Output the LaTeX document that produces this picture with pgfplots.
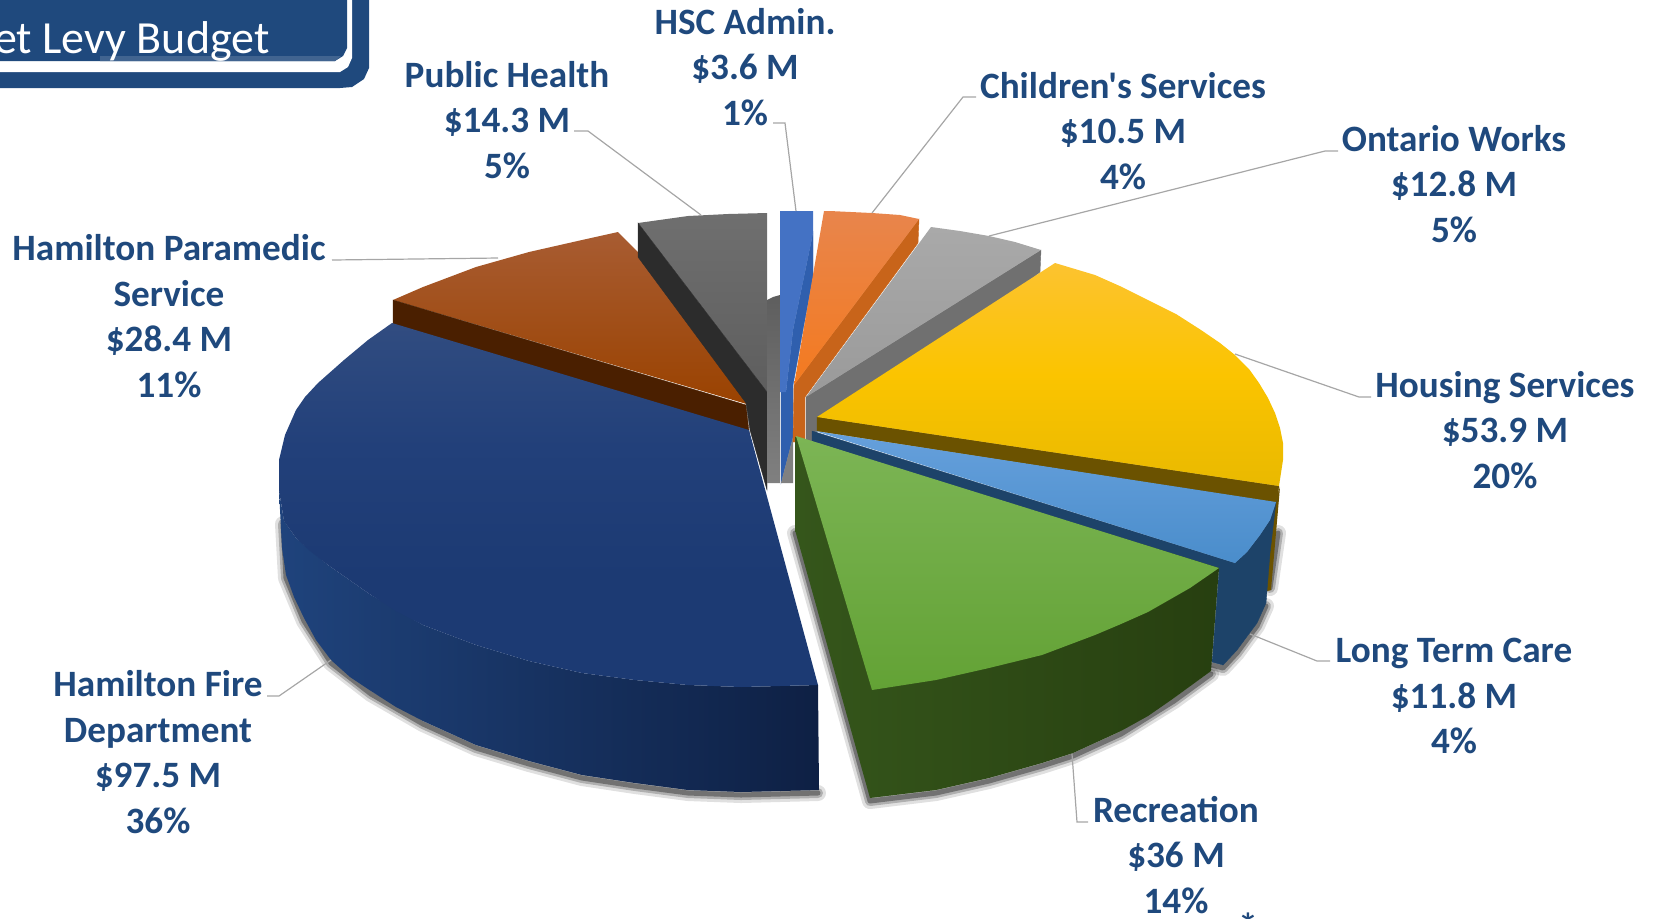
\documentclass[border=0pt]{standalone}
\usepackage{pgfplots}
\pgfplotsset{compat=1.18}
\usepackage{fontspec}
\newfontfamily\cf{Carlito}
\definecolor{lab}{HTML}{1F497D}
\definecolor{lead}{HTML}{A6A6A6}
\definecolor{brt}{HTML}{A85C32}
\definecolor{brb}{HTML}{9A4200}
\definecolor{brw}{HTML}{4A1F00}
\definecolor{PHt}{HTML}{6F6F6F}
\definecolor{PHb}{HTML}{5E5E5E}
\definecolor{PHw}{HTML}{2C2C2C}
\definecolor{band}{HTML}{808080}
\definecolor{hsct}{HTML}{4472C4}
\definecolor{hscd}{HTML}{2F5FAE}
\definecolor{orw}{HTML}{C8641A}
\definecolor{ort}{HTML}{E8854C}
\definecolor{orb}{HTML}{F47A1F}
\definecolor{onw}{HTML}{707070}
\definecolor{ont}{HTML}{A9A9A9}
\definecolor{onb}{HTML}{9A9A9A}
\definecolor{yew}{HTML}{6B5200}
\definecolor{yet}{HTML}{FCC330}
\definecolor{yem}{HTML}{FBC400}
\definecolor{yeb}{HTML}{E9B900}
\definecolor{ltw}{HTML}{1D4369}
\definecolor{ltt}{HTML}{66A0DC}
\definecolor{ltb}{HTML}{4A8DCB}
\definecolor{fiwl}{HTML}{1F437C}
\definecolor{fiwr}{HTML}{0E2044}
\definecolor{fit}{HTML}{4A5F8F}
\definecolor{fia}{HTML}{3E5488}
\definecolor{fim}{HTML}{2E4A7F}
\definecolor{fic}{HTML}{22407A}
\definecolor{fib}{HTML}{1C3A73}
\definecolor{grwl}{HTML}{35561B}
\definecolor{grwr}{HTML}{273F10}
\definecolor{grt}{HTML}{7CB555}
\definecolor{grb}{HTML}{63A235}
\pgfdeclareverticalshading{fireS}{100bp}{color(0bp)=(fib);color(40bp)=(fib);color(58bp)=(fic);color(72bp)=(fim);color(85bp)=(fia);color(100bp)=(fit)}
\newcommand{\poly}[2]{\addplot[draw=none,#1] coordinates {#2} -- cycle;}
\newcommand{\shad}[1]{%
  \addplot[black,opacity=.12,line width=8pt,line join=round,line cap=round,yshift=-1.5pt] coordinates {#1};
  \addplot[black,opacity=.22,line width=5pt,line join=round,line cap=round,yshift=-1.5pt] coordinates {#1};
  \addplot[black,opacity=.35,line width=2.5pt,line join=round,line cap=round,yshift=-1.5pt] coordinates {#1};}
\newcommand{\leader}[1]{\addplot[lead,line width=.6pt] coordinates {#1};}
\newcommand{\lbl}[3]{\node[text=lab,align=center,inner sep=0pt,font=\cf\bfseries\fontsize{18.6}{22.75pt}\selectfont] at (axis cs:#1,#2) {#3};}
\begin{document}
\begin{tikzpicture}
\useasboundingbox (0,0) rectangle (830pt,459pt);
\clip (0,0) rectangle (830pt,459pt);
\begin{axis}[at={(0,0)},anchor=south west,scale only axis,width=830pt,height=459pt,
  xmin=0,xmax=1660,ymin=0,ymax=918,y dir=reverse,hide axis,no markers]
% banner
\poly{fill=lab}{(0,0)(369,0)(369,68)(364,79)(352,87)(340,88)(0,88)}
\poly{fill=white}{(0,0)(352,0)(352,58)(348,67)(340,72)(0,72)}
\poly{fill=lab}{(0,0)(347,0)(347,48)(343,56)(335,61)(0,61)}
\poly{fill=lab!85!white}{(100,56)(341,56)(335,61)(100,61)}
\node[text=white,anchor=base east,inner sep=0pt,font=\cf\fontsize{23}{27}\selectfont] at (axis cs:270,53) {et Levy Budget};
% shadows
\shad{(283,521)(286,575)(304,618)(331,660)(371,691)(423,721)(476,745)(529,761)(582,775)(635,783)(688,790)(741,792)(818,790)}
\shad{(795,530)(870,798)(936,790)(989,778)(1042,763)(1073,753)(1121,731)(1174,698)(1211,671)}
\shad{(1278,530)(1270,585)}
\shad{(1266,603)(1257,623)(1248,635)(1237,650)(1223,665)(1212,662)}
% paramedic
\poly{top color=brt,bottom color=brb}{(393,300)(423,287)(476,267)(529,252)(582,240)(618,232)(640,254)(750,405)}
\poly{fill=brw,draw=brw,line width=.2pt}{(393,300)(746,405)(750,440)(393,330)}
% public health
\poly{top color=PHt,bottom color=PHb}{(638,223)(688,216)(728,214)(767,213)(767,392)}
\poly{fill=PHw,draw=PHw,line width=.2pt}{(638,223)(767,392)(767,490)(750,430)(746,403)(638,257)}
% band
\poly{top color=PHb,bottom color=band}{(767,300)(773,297)(780,295)(780,483)(767,483)}
% HSC
\poly{fill=hscd,draw=hscd,line width=.2pt}{(813,233)(813,277)(803,330)(793,385)(793,437)(781,483)(781,392)(786,392)(793,330)}
\poly{fill=hsct}{(780,211)(813,211)(813,233)(793,330)(786,392)(780,392)}
\poly{fill=band}{(793,437)(793,483)(781,483)}
% orange
\poly{fill=orw,draw=orw,line width=.2pt}{(919,219)(918,243)(805,397)(805,442)(793,442)(794,385)}
\poly{top color=ort,bottom color=orb}{(824,211)(830,211)(872,213)(900,215)(919,219)(794,385)}
% ontario
\poly{fill=onw,draw=onw,line width=.2pt}{(1041,250)(1040,272)(1030,280)(817,425)(817,445)(806,445)(806,397)}
\poly{top color=ont,bottom color=onb}{(931,227)(960,231)(989,236)(1015,242)(1041,250)(806,397)}
% housing
\poly{fill=yew,draw=yew,line width=.2pt}{(817,417)(1279,486)(1277,503)(817,431)}
\poly{fill=yew}{(1280,487)(1278,510)(1271,590)(1264,592)(1270,540)(1276,500)}
\poly{top color=yet,bottom color=yeb,middle color=yem}{(817,417)(1055,263)(1095,275)(1122,287)(1148,300)(1176,314)(1201,330)(1220,343)(1235,355)(1249,369)(1259,383)(1268,398)(1275,413)(1280,428)(1283,443)(1283,460)(1279,486)}
% long term care
\poly{fill=ltw,draw=ltw,line width=.2pt}{(1219,570)(1235,563)(1247,552)(1260,535)(1270,520)(1276,502)(1270,553)(1266,603)(1257,623)(1248,635)(1237,650)(1223,665)(1212,662)}
\poly{fill=ltw,draw=ltw,line width=.2pt}{(812,431)(1235,563)(1219,572)(812,441)}
\poly{top color=ltt,bottom color=ltb}{(815,431)(1276,502)(1270,520)(1260,535)(1247,552)(1235,563)}
% fire
\poly{left color=fiwl,right color=fiwr}{(279,490)(284,521)(296,538)(328,565)(371,595)(423,625)(476,645)(529,661)(582,673)(635,680)(688,685)(741,687)(818,685)(819,790)(741,792)(688,790)(635,783)(582,775)(529,761)(476,745)(423,721)(396,707)(371,691)(350,677)(331,660)(316,640)(304,618)(294,597)(286,575)(282,548)}
\poly{shading=fireS}{(749,430)(392,323)(368,340)(344,360)(318,383)(305,397)(296,410)(285,435)(279,460)(279,490)(284,521)(296,538)(310,551)(328,565)(371,595)(396,611)(423,625)(476,645)(529,661)(582,673)(635,680)(688,685)(741,687)(818,685)}
% recreation
\poly{left color=grwl,right color=grwr}{(795,437)(795,530)(870,798)(936,790)(989,778)(1042,763)(1073,753)(1121,731)(1148,716)(1174,698)(1211,671)(1219,568)}
\poly{top color=grt,bottom color=grb}{(796,436)(1219,568)(1190,588)(1148,612)(1121,624)(1095,635)(1042,655)(989,668)(936,680)(872,690)}
% leaders
\leader{(574,131)(588,131)(701,215)}
\leader{(773,123)(785,123)(796,211)}
\leader{(332,260)(498,258)}
\leader{(976,97)(963,97)(872,213)}
\leader{(1338,151)(1325,151)(989,236)}
\leader{(1371,397)(1359,397)(1235,354)}
\leader{(1330,661)(1317,661)(1250,634)}
\leader{(1088,822)(1077,822)(1072,754)}
\leader{(267,696)(279,696)(331,660)}
% labels
\lbl{507}{120}{Public Health\\\$14.3 M\\5\%}
\lbl{745}{67}{HSC Admin.\\\$3.6 M\\1\%}
\lbl{1123}{131}{Children's Services\\\$10.5 M\\4\%}
\lbl{1454}{184}{Ontario Works\\\$12.8 M\\5\%}
\lbl{1505}{430}{Housing Services\\\$53.9 M\\20\%}
\lbl{1454}{696}{Long Term Care\\\$11.8 M\\4\%}
\lbl{1176}{855}{Recreation\\\$36 M\\14\%}
\lbl{158}{752}{Hamilton Fire\\Department\\\$97.5 M\\36\%}
\lbl{169}{316}{Hamilton Paramedic\\Service\\\$28.4 M\\11\%}
\node[text=lab,anchor=north,inner sep=0pt,font=\cf\bfseries\fontsize{20}{22}\selectfont] at (axis cs:1248,912) {*};
\end{axis}
\end{tikzpicture}
\end{document}
